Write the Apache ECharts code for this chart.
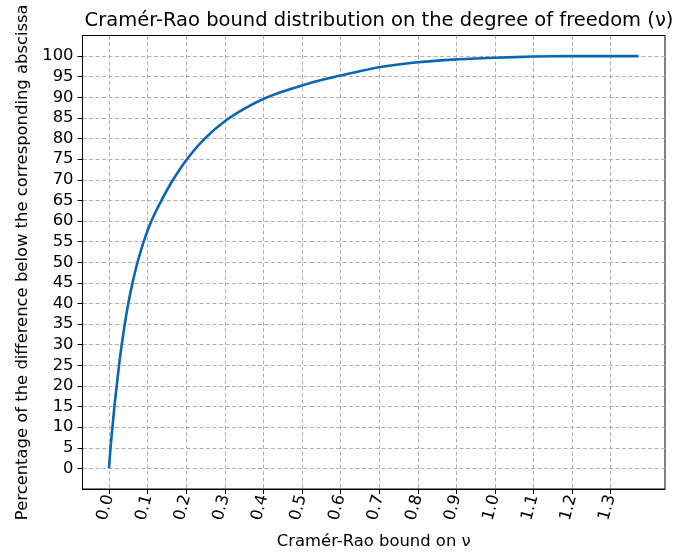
<!DOCTYPE html>
<html>
<head>
<meta charset="utf-8">
<script src="https://cdn.jsdelivr.net/npm/echarts@6/dist/echarts.min.js"></script>
<style>html,body{margin:0;padding:0;background:#fff;}#c{width:681px;height:555px;}</style>
</head>
<body>
<div id="c"></div>
<script>
const titleText = 'Cramér-Rao bound distribution on the degree of freedom (ν)';
const xName = 'Cramér-Rao bound on ν';
const yName = 'Percentage of the difference below the corresponding abscissa';
const crbX = [0, 0.004, 0.009, 0.014, 0.020, 0.026, 0.033, 0.041, 0.050, 0.061, 0.074, 0.090, 0.110, 0.136, 0.166, 0.202, 0.248, 0.3, 0.35, 0.4, 0.45, 0.5, 0.55, 0.6, 0.7, 0.8, 0.9, 1.0, 1.1, 1.2, 1.3, 1.372];
const pct = [0, 5, 10, 15, 20, 25, 30, 35, 40, 45, 50, 55, 60, 65, 70, 75, 80, 84.2, 87.2, 89.6, 91.4, 92.9, 94.2, 95.3, 97.3, 98.5, 99.2, 99.6, 99.9, 100, 100, 100];
const xTicks = [0.0, 0.1, 0.2, 0.3, 0.4, 0.5, 0.6, 0.7, 0.8, 0.9, 1.0, 1.1, 1.2, 1.3];
const yTicks = [0, 5, 10, 15, 20, 25, 30, 35, 40, 45, 50, 55, 60, 65, 70, 75, 80, 85, 90, 95, 100];

const font = 'DejaVu Sans';
const chart = echarts.init(document.getElementById('c'));
chart.setOption({
  animation: false,
  backgroundColor: '#fff',
  title: {
    text: titleText, left: 374, top: 6, textAlign: 'center',
    textStyle: {fontFamily: font, fontSize: 19.5, fontWeight: 'normal', color: '#000'}
  },
  grid: {left: 82.5, right: 16, top: 35.5, bottom: 64, show: true, borderColor: '#000', borderWidth: 1},
  xAxis: {
    type: 'value', min: -0.0686, max: 1.4406,
    name: xName, nameLocation: 'middle', nameGap: 45,
    nameTextStyle: {fontFamily: font, fontSize: 16.4, color: '#000'},
    axisLine: {show: true, onZero: false, lineStyle: {color: '#000'}},
    axisTick: {show: true, length: 5, customValues: xTicks, lineStyle: {color: '#000'}},
    axisLabel: {customValues: xTicks, rotate: 75, fontFamily: font, fontSize: 16.4, color: '#000',
      formatter: v => v.toFixed(1), margin: 6},
    splitLine: {show: true, lineStyle: {color: '#b0b0b0', type: [4, 2.5], width: 1}}
  },
  yAxis: {
    type: 'value', min: -5, max: 105,
    name: yName, nameLocation: 'middle', nameGap: 52, nameRotate: 90,
    nameTextStyle: {fontFamily: font, fontSize: 16.4, color: '#000'},
    axisLine: {show: true, onZero: false, lineStyle: {color: '#000'}},
    axisTick: {show: true, length: 5, customValues: yTicks, lineStyle: {color: '#000'}},
    axisLabel: {customValues: yTicks, fontFamily: font, fontSize: 16.4, color: '#000', margin: 9},
    splitLine: {show: true, lineStyle: {color: '#b0b0b0', type: [4, 2.5], width: 1}}
  },
  series: [{
    type: 'line', data: crbX.map((x, i) => [x, pct[i]]), showSymbol: false, smooth: 0.2,
    lineStyle: {color: '#0a66b2', width: 2.6}
  }]
});
</script>
</body>
</html>
